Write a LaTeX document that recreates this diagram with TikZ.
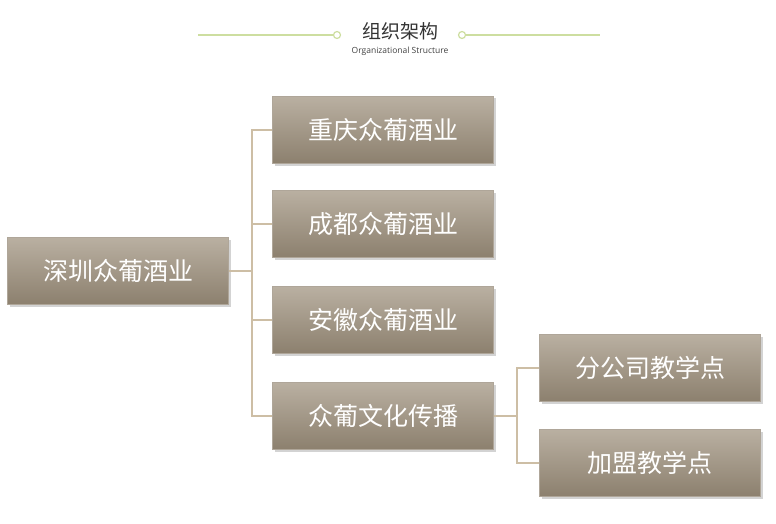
\documentclass[tikz,border=0pt]{standalone}
\usepackage{fontspec}
\setmainfont{Open Sans}
\newfontfamily\cjk{Noto Sans CJK SC}
\usetikzlibrary{shadows}
\definecolor{boxc}{RGB}{168,156,138}
\definecolor{boxd}{RGB}{140,128,110}
\definecolor{linec}{RGB}{205,190,165}
\definecolor{greenl}{RGB}{205,222,160}
\tikzset{
 org/.style={minimum width=221pt,minimum height=67pt,inner sep=0pt,
  top color=boxc!80!white,bottom color=boxd,draw=boxd!70!white,line width=1.2pt,
  drop shadow={shadow xshift=2pt,shadow yshift=-2pt,opacity=0.35},
  text=white,font=\cjk\fontsize{25}{25}\selectfont},
 conn/.style={draw=linec,line width=1.6pt},
 gline/.style={draw=greenl,line width=1.2pt}
}
\begin{document}
\begin{tikzpicture}[x=1pt,y=-1pt]
\useasboundingbox (0,0) rectangle (776,524);
\node[font=\cjk\fontsize{19}{19}\selectfont,text=black!80] (t) at (400,31) {组织架构};
\node[font=\fontsize{8.5}{9}\selectfont,text=black!75] (st) at (400,51) {Organizational Structure};
\node[circle,gline,minimum size=7pt,inner sep=0pt] (c1) at (337,35) {};
\node[circle,gline,minimum size=7pt,inner sep=0pt] (c2) at (462,35) {};
\coordinate (l1) at (198,35); \coordinate (r1) at (600,35);
\draw[gline] (l1) -- (c1.west); \draw[gline] (c2.east) -- (r1);
\node[org] (root) at (118,271) {深圳众葡酒业};
\node[org] (a) at (383,130) {重庆众葡酒业};
\node[org] (b) at (383,224) {成都众葡酒业};
\node[org] (c) at (383,320) {安徽众葡酒业};
\node[org] (d) at (383,416) {众葡文化传播};
\node[org] (e) at (650,368) {分公司教学点};
\node[org] (f) at (650,463) {加盟教学点};
\coordinate (j1) at (252,271); \coordinate (j2) at (517,416);
\draw[conn] (root.east) -- (j1);
\foreach \n in {a,b,c,d} \draw[conn] (j1) |- (\n.west);
\draw[conn] (d.east) -- (j2);
\foreach \n in {e,f} \draw[conn] (j2) |- (\n.west);
\end{tikzpicture}
\end{document}
